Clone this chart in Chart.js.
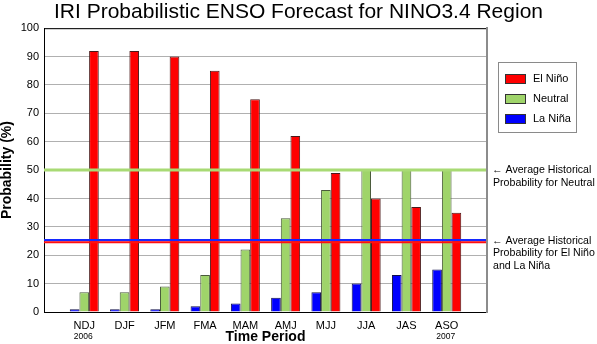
<!DOCTYPE html>
<html>
<head>
<meta charset="utf-8">
<title>IRI ENSO Forecast</title>
<script src="https://cdn.jsdelivr.net/npm/chart.js@4.4.0/dist/chart.umd.min.js"></script>
<style>
   html, body { margin: 0; padding: 0; background: #fff; }
   canvas { display: block; }
</style>
</head>
<body>
<canvas id="enso" width="597" height="344"></canvas>
<script>
// Forecast seasons and probabilities (%)
var periods = ['NDJ', 'DJF', 'JFM', 'FMA', 'MAM', 'AMJ', 'MJJ', 'JJA', 'JAS', 'ASO'];
var years = ['2006', '', '', '', '', '', '', '', '', '2007'];
var elNino = [92, 92, 90, 85, 75, 62, 49, 40, 37, 35];
var neutral = [7, 7, 9, 13, 22, 33, 43, 50, 50, 50];
var laNina = [1, 1, 1, 2, 3, 5, 7, 10, 13, 15];
var yTicks = [0, 10, 20, 30, 40, 50, 60, 70, 80, 90, 100];

// historical (climatological) probabilities
var neutralClimo = 50;
var ninoClimo = 25;

Chart.defaults.font.family = '"Liberation Sans", Arial, Helvetica, sans-serif';
Chart.defaults.color = '#000';

function toPoints(values) {
   return values.map(function (v, i) { return { x: i + 1, y: v }; });
}

function hline(ctx, area, y, color, width) {
   ctx.beginPath();
   ctx.strokeStyle = color;
   ctx.lineWidth = width;
   ctx.moveTo(area.left, y);
   ctx.lineTo(area.right - 1, y);
   ctx.stroke();
}

// climatology lines, frame, legend box and side notes
var ensoDecor = {
   id: 'ensoDecor',
   afterDatasetsDraw: function (chart) {
      var ctx = chart.ctx, area = chart.chartArea, y = chart.scales.y;
      ctx.save();
      hline(ctx, area, y.getPixelForValue(neutralClimo), '#a8da74', 3);
      hline(ctx, area, y.getPixelForValue(ninoClimo) - 1, '#1428ff', 2.2);
      hline(ctx, area, y.getPixelForValue(ninoClimo) + 1.2, '#ff1010', 2.2);

      ctx.beginPath();
      ctx.strokeStyle = '#000';
      ctx.lineWidth = 1;
      ctx.moveTo(area.left, area.top + 0.5);
      ctx.lineTo(area.right - 1, area.top + 0.5);
      ctx.stroke();
      ctx.restore();
   },
   afterDraw: function (chart) {
      var ctx = chart.ctx, area = chart.chartArea, y = chart.scales.y, x = chart.scales.x;
      ctx.save();

      // legend
      var lx = area.right + 11, ly = 62;
      ctx.strokeStyle = '#8a8a8a';
      ctx.lineWidth = 1;
      ctx.strokeRect(lx + 0.5, ly + 0.5, 78, 70);
      ctx.font = '11px "Liberation Sans", Arial, sans-serif';
      ctx.textBaseline = 'middle';
      ctx.textAlign = 'left';
      var sets = chart.data.datasets.slice().reverse();
      sets.forEach(function (ds, i) {
         var cy = ly + 17 + i * 20;
         ctx.fillStyle = ds.backgroundColor;
         ctx.fillRect(lx + 7, cy - 5, 21, 10);
         ctx.strokeStyle = '#333';
         ctx.strokeRect(lx + 7.5, cy - 4.5, 20, 9);
         ctx.fillStyle = '#000';
         ctx.fillText(ds.label, lx + 35, cy);
      });

      // notes next to climatology lines
      var notes = [
         { value: neutralClimo, lines: ['\u2190 Average Historical', 'Probability for Neutral'] },
         { value: ninoClimo, lines: ['\u2190 Average Historical', 'Probability for El Ni\u00f1o', 'and La Ni\u00f1a'] }
      ];
      ctx.font = '10.6px "Liberation Sans", Arial, sans-serif';
      notes.forEach(function (n) {
         var py = y.getPixelForValue(n.value);
         n.lines.forEach(function (t, i) {
            ctx.fillText(t, area.right + (i === 0 ? 5 : 6), py + i * 12.5);
         });
      });

      // start / end years under the season labels
      ctx.font = '8.5px "Liberation Sans", Arial, sans-serif';
      ctx.textAlign = 'center';
      years.forEach(function (yr, i) {
         if (yr) ctx.fillText(yr, x.getPixelForValue(i + 1) - 1, area.bottom + 25);
      });
      ctx.restore();
   }
};

window.onload = function () {
   var ctx = document.getElementById('enso').getContext('2d');
   window.ensoChart = new Chart(ctx, {
      type: 'bar',
      data: {
         datasets: [{
            label: 'La Ni\u00f1a',
            data: toPoints(laNina),
            backgroundColor: '#0000ff',
            borderColor: '#10104a',
            borderWidth: 1
         }, {
            label: 'Neutral',
            data: toPoints(neutral),
            backgroundColor: '#9fd46a',
            borderColor: '#4a5a3c',
            borderWidth: 1
         }, {
            label: 'El Ni\u00f1o',
            data: toPoints(elNino),
            backgroundColor: '#ff0000',
            borderColor: '#4a1a1a',
            borderWidth: 1
         }]
      },
      options: {
         responsive: false,
         animation: false,
         categoryPercentage: 0.72,
         barPercentage: 1.0,
         layout: { padding: 0 },
         plugins: {
            legend: { display: false },
            tooltip: { enabled: false },
            title: {
               display: true,
               text: 'IRI Probabilistic ENSO Forecast for NINO3.4 Region',
               font: { size: 21, weight: 'normal' },
               color: '#000',
               padding: { top: 0, bottom: 3 }
            }
         },
         scales: {
            x: {
               type: 'linear',
               min: 0,
               max: periods.length + 1,
               offset: false,
               grid: { display: false, drawTicks: false },
               border: { color: '#000', width: 1 },
               afterBuildTicks: function (scale) {
                  scale.ticks = periods.map(function (p, i) { return { value: i + 1 }; });
               },
               afterFit: function (scale) { scale.height = 32; },
               ticks: {
                  autoSkip: false,
                  maxRotation: 0,
                  padding: 7,
                  font: { size: 11 },
                  callback: function (value) { return periods[value - 1] || ''; }
               },
               title: {
                  display: true,
                  text: 'Time Period',
                  font: { size: 14, weight: 'bold', lineHeight: 1 },
                  padding: { top: 0, bottom: 0 }
               }
            },
            y: {
               min: 0,
               max: 100,
               grid: { color: '#b0b0b0', drawTicks: false },
               border: { color: '#000', width: 1 },
               afterBuildTicks: function (scale) {
                  scale.ticks = yTicks.map(function (v) { return { value: v }; });
               },
               afterFit: function (scale) { scale.width = 44; },
               ticks: { padding: 5, font: { size: 11 } },
               title: {
                  display: true,
                  text: 'Probability (%)',
                  font: { size: 14, weight: 'bold', lineHeight: 1 },
                  padding: { top: 0, bottom: 0 }
               }
            },
            side: {
               position: 'right',
               grid: { display: false, drawTicks: false },
               border: { display: true, color: '#8c8c8c', width: 2 },
               ticks: { display: false },
               afterFit: function (scale) { scale.width = 110; }
            }
         }
      },
      plugins: [ensoDecor]
   });
};
</script>
</body>
</html>
